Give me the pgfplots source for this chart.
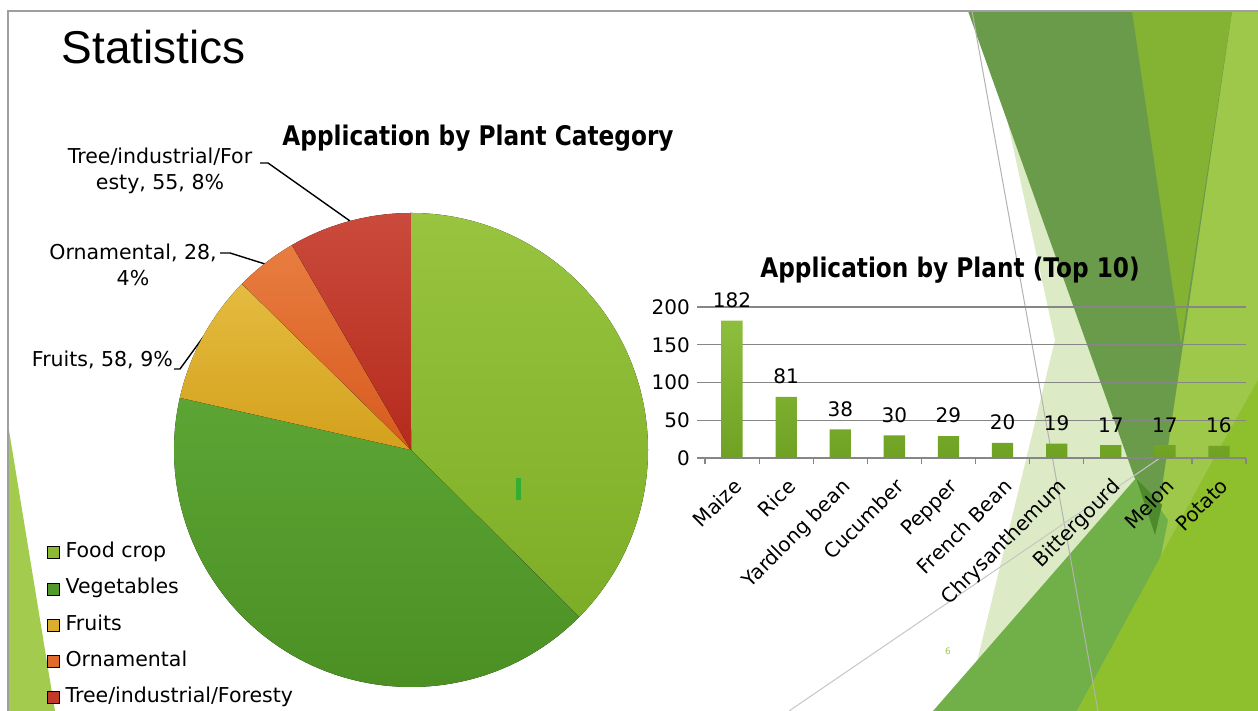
\documentclass[border=0pt]{standalone}
\usepackage{fontspec}
\usepackage{pgfplots}
\pgfplotsset{compat=1.18}
\setmainfont{DejaVu Sans}
\newfontfamily\titlefont{DejaVu Sans}[FakeStretch=0.86]
\newfontfamily\statfont{Liberation Sans}

\definecolor{foodT}{HTML}{98C43F}\definecolor{foodB}{HTML}{7DAD26}
\definecolor{vegT}{HTML}{5CA535}\definecolor{vegB}{HTML}{4A8E22}
\definecolor{fruT}{HTML}{E4BC40}\definecolor{fruB}{HTML}{D4A01C}
\definecolor{ornT}{HTML}{E87D40}\definecolor{ornB}{HTML}{D85A1E}
\definecolor{treT}{HTML}{CA4A3C}\definecolor{treB}{HTML}{B52B1C}
\definecolor{foodC}{HTML}{8DBA35}\definecolor{vegC}{HTML}{52992C}
\definecolor{fruC}{HTML}{DCAE2E}\definecolor{ornC}{HTML}{E06A2C}
\definecolor{treC}{HTML}{C23A2A}
\definecolor{barT}{HTML}{8DBE3C}\definecolor{barB}{HTML}{6FA123}
\definecolor{bgDark}{HTML}{6A9B4A}\definecolor{bgYG}{HTML}{84B232}
\definecolor{bgLight}{HTML}{9DC84A}\definecolor{bgPale}{HTML}{DCEAC5}
\definecolor{bgMed}{HTML}{71B049}\definecolor{bgBR}{HTML}{8EBF2D}
\definecolor{bgOver}{HTML}{4C8A2C}
\definecolor{bgSliver}{HTML}{A3CC4F}\definecolor{gridC}{HTML}{868686}

\newcommand\lbl{\fontsize{20.5}{26}\selectfont}
\newcommand\tck{\fontsize{20}{24}\selectfont}
\newcommand\ttl{\fontsize{27}{32}\selectfont\titlefont\bfseries}

% pie angles, clockwise from 12 o'clock
\pgfmathsetmacro\tot{246+270+58+28+55}
\pgfmathsetmacro\aA{90}
\pgfmathsetmacro\aB{\aA-360*(246/\tot)}
\pgfmathsetmacro\aC{\aB-360*(270/\tot)}
\pgfmathsetmacro\aD{\aC-360*(58/\tot)}
\pgfmathsetmacro\aE{\aD-360*(28/\tot)}
\pgfmathsetmacro\aF{\aE-360*(55/\tot)}
\def\R{237}

\begin{document}
\begin{tikzpicture}[x=1pt,y=1pt]
\useasboundingbox (0,0) rectangle (1258,711);
\clip (0,0) rectangle (1258,711);

% slide background (pixel coordinates, y downward)
\begin{scope}[shift={(0,711)},yscale=-1]
\fill[bgLight] (1180,11) -- (1258,11) -- (1258,711) -- (1100,711) -- (1150,470) -- cycle;
\fill[bgPale] (1005,110) -- (1140,470) -- (1133,711) -- (965,711) -- (1055,340) -- cycle;
\fill[bgDark] (968,11) -- (1232,11) -- (1155,535) -- cycle;
\fill[bgYG] (1132,11) -- (1232,11) -- (1181,344) -- cycle;
\fill[bgMed] (933,711) -- (1137,477) -- (1168,520) -- (1160,560) -- (1077,711) -- cycle;
\fill[bgOver] (1136,478) -- (1162,505) -- (1155,535) -- cycle;
\fill[bgBR] (1077,711) -- (1213,460) -- (1258,380) -- (1258,711) -- cycle;
\fill[bgSliver] (8,424) -- (8,711) -- (55,711) -- cycle;
\draw[gray!60,line width=1pt] (972,11) -- (1098,711);
\draw[gray!45,line width=1pt] (789,711) -- (1160,458);
\draw[gray!75,line width=2.5pt] (8,711) -- (8,11) -- (1258,11);
\node[anchor=base, text=bgLight, font=\fontsize{9}{10}\selectfont] at (948,655) {6};

\node[anchor=base west, font=\fontsize{46}{50}\selectfont\statfont] at (58,64) {Statistics};
\node[font=\ttl] at (478,138) {Application by Plant Category};
\node[font=\ttl] at (950,270) {Application by Plant (Top 10)};

% pie data labels
\node[font=\lbl, align=center] at (547,428) {Food crop, 246,\\38\%};
\node[font=\lbl, align=center] at (300,520) {Vegetables, 270,\\41\%};
\node[font=\lbl, anchor=east, inner sep=1pt] at (174,360) {Fruits, 58, 9\%};
\node[font=\lbl, align=center] at (133,265) {Ornamental, 28,\\4\%};
\node[font=\lbl, align=center] at (160,171) {Tree/industrial/For\\esty, 55, 8\%};
\draw[line width=1.4pt] (174,369) -- (180,369) -- (204,336);
\draw[line width=1.4pt] (220,253) -- (230,253) -- (265,264);
\draw[line width=1.4pt] (260,163) -- (268,163) -- (350,221);
\end{scope}

% pie chart
\begin{axis}[at={(411pt,261pt)}, anchor=center, scale only axis, width=500pt, height=500pt,
  xmin=-250, xmax=250, ymin=-250, ymax=250, hide axis, clip=false,
  legend cell align=left,
  legend image code/.code={\fill[#1] (0pt,-6pt) rectangle (12pt,6pt);},
  legend style={at={(axis cs:-364,-92)}, anchor=north west, draw=none, fill=none,
    inner sep=0pt, row sep=15.8pt, column sep=6pt, font=\lbl,
    nodes={inner sep=0pt, text height=15.5pt, text depth=5pt}}]
\fill[top color=foodT, bottom color=foodB] (axis cs:0,0) -- (axis cs:{\R*cos(\aA)},{\R*sin(\aA)}) arc[start angle=\aA, end angle=\aB, radius=\R pt] -- cycle;
\fill[top color=vegT, bottom color=vegB] (axis cs:0,0) -- (axis cs:{\R*cos(\aB)},{\R*sin(\aB)}) arc[start angle=\aB, end angle=\aC, radius=\R pt] -- cycle;
\fill[top color=fruT, bottom color=fruB] (axis cs:0,0) -- (axis cs:{\R*cos(\aC)},{\R*sin(\aC)}) arc[start angle=\aC, end angle=\aD, radius=\R pt] -- cycle;
\fill[top color=ornT, bottom color=ornB] (axis cs:0,0) -- (axis cs:{\R*cos(\aD)},{\R*sin(\aD)}) arc[start angle=\aD, end angle=\aE, radius=\R pt] -- cycle;
\fill[top color=treT, bottom color=treB] (axis cs:0,0) -- (axis cs:{\R*cos(\aE)},{\R*sin(\aE)}) arc[start angle=\aE, end angle=\aF, radius=\R pt] -- cycle;
\addlegendimage{fill=foodC}\addlegendentry{Food crop}
\addlegendimage{fill=vegC}\addlegendentry{Vegetables}
\addlegendimage{fill=fruC}\addlegendentry{Fruits}
\addlegendimage{fill=ornC}\addlegendentry{Ornamental}
\addlegendimage{fill=treC}\addlegendentry{Tree/industrial/Foresty}
\end{axis}
% small selection mark on the pie
\fill[green!60!black!80] (516,211) rectangle (521,233);

% bar chart
\begin{axis}[at={(705pt,253pt)}, anchor=south west, scale only axis, width=541pt, height=151pt,
  xmin=-0.5, xmax=9.5, ymin=0, ymax=200, enlargelimits=false, clip=false,
  ybar, bar width=21.3pt,
  axis x line*=bottom, axis y line*=left,
  y axis line style={draw=none}, x axis line style={draw=gridC, line width=1.5pt, -},
  ymajorgrids, major grid style={draw=gridC, line width=1.2pt},
  ytick={0,50,100,150,200}, xtick={0,...,9},
  xticklabels={Maize, Rice, Yardlong bean, Cucumber, Pepper, French Bean, Chrysanthemum, Bittergourd, Melon, Potato},
  minor xtick={-0.5,0.5,...,9.5},
  tick align=outside, major tick length=8pt, minor tick length=6pt,
  every major x tick/.append style={draw=none},
  every minor x tick/.append style={draw=gridC, line width=1.2pt},
  every major y tick/.append style={draw=gridC, line width=1.2pt},
  /pgf/number format/assume math mode=true,
  tick label style={font=\tck},
  yticklabel style={inner sep=0pt, xshift=-7pt},
  xticklabel shift=11pt,
  xticklabel style={rotate=45, anchor=north east, inner sep=0pt},
  nodes near coords, nodes near coords style={font=\tck, anchor=south, inner sep=0pt, yshift=12.7pt}]
\addplot[draw=none, top color=barT, bottom color=barB] coordinates {(0,182) (1,81) (2,38) (3,30) (4,29) (5,20) (6,19) (7,17) (8,17) (9,16)};
\end{axis}
\end{tikzpicture}
\end{document}
